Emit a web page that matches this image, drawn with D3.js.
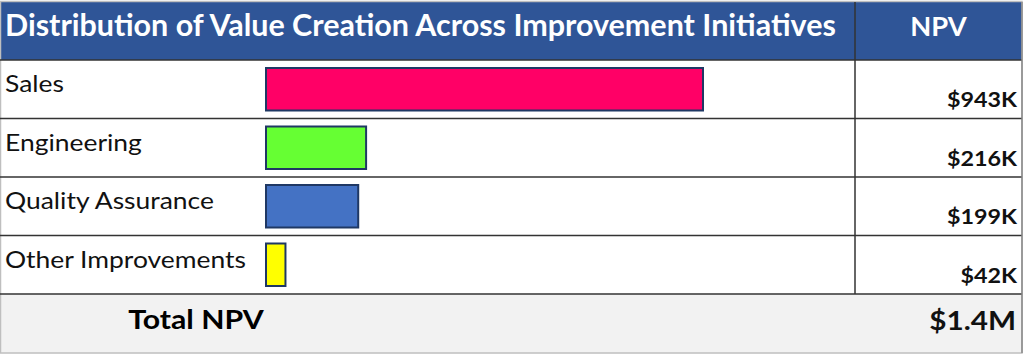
<!DOCTYPE html>
<html><head><meta charset="utf-8">
<script src="https://cdn.jsdelivr.net/npm/d3@7"></script>
<style>body{margin:0;background:#fff}svg{display:block}</style>
</head><body>
<svg id="c" width="1024" height="358"></svg>
<script>
const categories = ["Sales", "Engineering", "Quality Assurance", "Other Improvements"];
const npvValues = [943, 216, 199, 42];
const npvLabels = ["$943K", "$216K", "$199K", "$42K"];
const barColors = ["#FF0066", "#66FF33", "#4472C4", "#FFFF00"];
const title = "Distribution of Value Creation Across Improvement Initiatives";
const npvHeader = "NPV";
const totalLabel = "Total NPV";
const totalValue = "$1.4M";

const svg = d3.select("#c");
const right = 1022, divX = 855;
const headerTop = 2, headerBottom = 60, rowsBottom = 294, totalBottom = 353;
const font = "Lato, 'Open Sans', sans-serif";

const y = d3.scaleBand().domain(categories).range([headerBottom, rowsBottom]).paddingInner(0).paddingOuter(0);
const x = d3.scaleLinear().domain([0, 943]).range([266, 703]);

function stext(g, px, py, sx, anchor) {
  return g.append("text").attr("transform", `translate(${px},${py}) scale(${sx},1)`)
    .attr("text-anchor", anchor || "start").attr("font-family", font);
}

// header
svg.append("rect").attr("x", 0).attr("y", headerTop).attr("width", right).attr("height", headerBottom - headerTop).attr("fill", "#2F5597");
// total row
svg.append("rect").attr("x", 0).attr("y", rowsBottom).attr("width", right).attr("height", totalBottom - rowsBottom).attr("fill", "#F2F2F2");

// outer border
svg.append("rect").attr("x", 0.5).attr("y", headerTop - 0.5).attr("width", right - 0.5).attr("height", totalBottom - headerTop + 0.5)
  .attr("fill", "none").attr("stroke", "#BFBFBF").attr("stroke-width", 1.5);

// title
const t = svg.append("text").attr("x", 5).attr("y", 36).attr("fill", "#fff").attr("font-family", font)
  .attr("font-weight", 700).attr("font-size", 27).text(title);
const tw = t.node().getComputedTextLength();
if (tw > 0) t.attr("font-size", 27 * 831 / tw);
stext(svg, (divX + right) / 2, 36, 1.05, "middle").attr("fill", "#fff")
  .attr("font-weight", 700).attr("font-size", 26).text(npvHeader);

// rows
const rows = svg.append("g").selectAll("g").data(categories).join("g");
rows.each(function (d, i) {
  const g = d3.select(this);
  stext(g, 5, y(d) + 32, 1.15).attr("font-size", 23).attr("fill", "#111").text(d);
  g.append("rect")
    .attr("x", x(0)).attr("y", y(d) + 8)
    .attr("width", x(npvValues[i]) - x(0))
    .attr("height", y.bandwidth() - 16)
    .attr("fill", barColors[i])
    .attr("stroke", "#1F3864").attr("stroke-width", 2);
  stext(g, 1017, y(d) + 47, 1.11, "end").attr("font-weight", 700).attr("font-size", 21)
    .attr("fill", "#111").text(npvLabels[i]);
});

// grid lines
const lines = svg.append("g").attr("stroke", "#333").attr("stroke-width", 1.5);
[headerBottom, ...categories.map(c => y(c) + y.bandwidth())].forEach(v => {
  lines.append("line").attr("x1", 0).attr("x2", right).attr("y1", v).attr("y2", v);
});
lines.append("line").attr("x1", divX).attr("x2", divX).attr("y1", headerTop).attr("y2", rowsBottom);
lines.append("line").attr("x1", right).attr("x2", right).attr("y1", headerTop).attr("y2", totalBottom).attr("stroke", "#888");

// total
stext(svg, 196, 329, 1.12, "middle").attr("font-weight", 700).attr("font-size", 27).attr("fill", "#000").text(totalLabel);
stext(svg, 1016, 330, 1.1, "end").attr("font-weight", 700).attr("font-size", 27).attr("fill", "#111").text(totalValue);
</script>
</body></html>
